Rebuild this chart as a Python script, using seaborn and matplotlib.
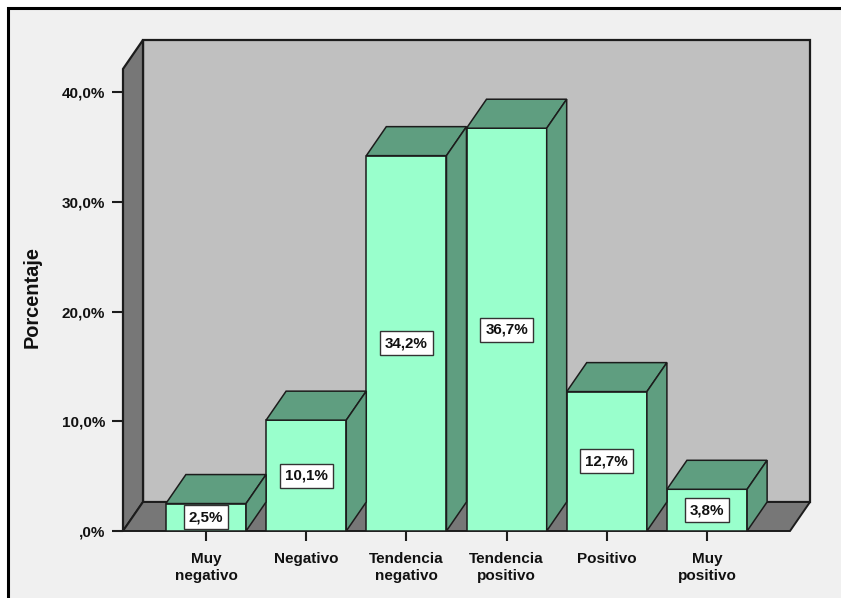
import matplotlib
matplotlib.use('Agg')
import matplotlib.pyplot as plt
import pandas as pd
import seaborn as sns
from matplotlib.patches import Polygon, Rectangle

# --- Data ---
categories = ['Muy\nnegativo', 'Negativo', 'Tendencia\nnegativo', 'Tendencia\npositivo', 'Positivo', 'Muy\npositivo']
percentages = [2.5, 10.1, 34.2, 36.7, 12.7, 3.8]
tick_values = [0, 10, 20, 30, 40]
tick_labels = [',0%', '10,0%', '20,0%', '30,0%', '40,0%']

sns.set_theme(style='white')
plt.rcParams['font.family'] = ['Liberation Sans', 'DejaVu Sans']
plt.rcParams['font.weight'] = 'bold'

W, H = 841, 598
FACE = '#99ffcc'
SHADE = '#5f9e80'
WALL = '#c0c0c0'
FLOOR = '#777777'
LINE = '#1c1c1c'

fig = plt.figure(figsize=(W / 100, H / 100), dpi=100, facecolor='white')

# outer frame: open on the right and at the bottom of the crop
fig.add_artist(Rectangle((8 / W, -0.02), 1.0, 1 - 8 / H + 0.02, transform=fig.transFigure,
                         facecolor='#f0f0f0', edgecolor='black', linewidth=2.2, zorder=-1))

# front plane of the plot: px 123..790, 0% at y=531, 10% = 109.75 px
ymax = 46
top_px = 531 - ymax * 10.975
ax = fig.add_axes([123 / W, (H - 531) / H, (790 - 123) / W, (531 - top_px) / H])
ax.patch.set_visible(False)

df = pd.DataFrame({'categoria': categories, 'porcentaje': percentages})
sns.barplot(data=df, x='categoria', y='porcentaje', color=FACE, saturation=1, width=0.8,
            edgecolor=LINE, linewidth=1.1, ax=ax, zorder=3)

x0, x1 = -0.828, 5.828
ax.set_xlim(x0, x1)
ax.set_ylim(0, ymax)

# depth of the fake 3D box
dx = 20 / 100.2
dy = 29 / 10.975
wall_top = 42.1 + dy


def face(points, color, z, lw=1.1):
    ax.add_patch(Polygon(points, closed=True, facecolor=color, edgecolor=LINE,
                         linewidth=lw, zorder=z, clip_on=False, joinstyle='miter'))


bars = list(ax.patches)

face([(x0 + dx, dy), (x1 + dx, dy), (x1 + dx, wall_top), (x0 + dx, wall_top)], WALL, 1, 1.6)
face([(x0, 0), (x0 + dx, dy), (x0 + dx, wall_top), (x0, wall_top - dy)], FLOOR, 1.5, 1.6)
face([(x0, 0), (x1, 0), (x1 + dx, dy), (x0 + dx, dy)], FLOOR, 1.5, 1.4)

# top and side of every bar, plus the value box
for bar, value in zip(bars, percentages):
    left, right = bar.get_x(), bar.get_x() + bar.get_width()
    face([(left, value), (right, value), (right + dx, value + dy), (left + dx, value + dy)], SHADE, 3)
    face([(right, 0), (right + dx, dy), (right + dx, value + dy), (right, value)], SHADE, 3)
    ax.text((left + right) / 2, value / 2, f'{value:.1f}%'.replace('.', ','),
            ha='center', va='center', fontsize=10.9, fontweight='bold', color='#111111', zorder=5,
            bbox=dict(boxstyle='square,pad=0.33', facecolor='white', edgecolor='#333333', linewidth=1))

sns.despine(ax=ax, left=True, bottom=True)
ax.set_yticks(tick_values, tick_labels)
ax.tick_params(axis='y', length=8, width=1.5, color=LINE, pad=5, labelsize=11, left=True, labelcolor='#111111')
ax.tick_params(axis='x', length=7.5, width=1.5, color=LINE, pad=7.8, labelsize=11, bottom=True, labelcolor='#111111')
for lab in ax.get_xticklabels():
    lab.set_linespacing(1.22)
    lab.set_fontweight('bold')
for lab in ax.get_yticklabels():
    lab.set_fontweight('bold')

ax.set_xlabel('')
ax.set_ylabel('')
fig.text(32 / W, (H - 297) / H, 'Porcentaje', rotation=90, ha='center', va='center',
         fontsize=14.4, fontweight='bold', color='#111111')

fig.savefig('out.png', dpi=100, facecolor=fig.get_facecolor())
